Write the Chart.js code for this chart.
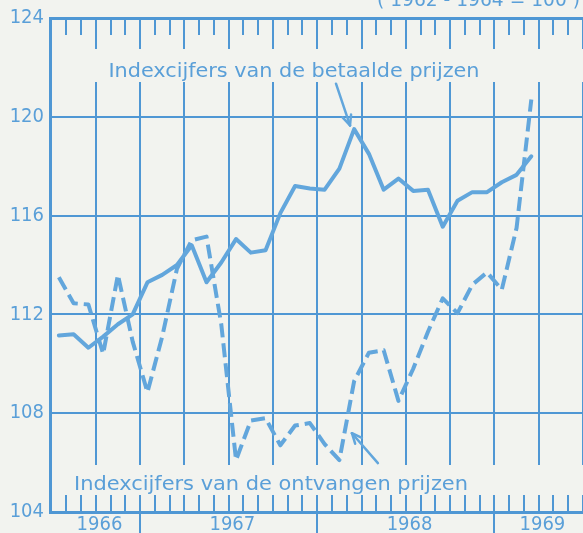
<!DOCTYPE html>
<html><head><meta charset="utf-8">
<script src="https://cdn.jsdelivr.net/npm/chart.js@4.4.1/dist/chart.umd.min.js"></script>
<style>html,body{margin:0;padding:0;background:#f2f3ef;overflow:hidden}canvas{display:block}</style>
</head><body>
<canvas id="c" width="583" height="533"></canvas>
<script>
// ---- data ----
const months = [
  '1966-07','1966-08','1966-09','1966-10','1966-11','1966-12',
  '1967-01','1967-02','1967-03','1967-04','1967-05','1967-06',
  '1967-07','1967-08','1967-09','1967-10','1967-11','1967-12',
  '1968-01','1968-02','1968-03','1968-04','1968-05','1968-06',
  '1968-07','1968-08','1968-09','1968-10','1968-11','1968-12',
  '1969-01','1969-02','1969-03'
];
const betaaldePrijzen = [
  111.15, 111.2, 110.65, 111.1, 111.6, 112.0,
  113.3, 113.6, 114.0, 114.8, 113.3, 114.1,
  115.05, 114.5, 114.6, 116.1, 117.2, 117.1,
  117.05, 117.9, 119.5, 118.5, 117.05, 117.5,
  117.0, 117.05, 115.55, 116.6, 116.95, 116.95,
  117.35, 117.65, 118.4
];
const ontvangenPrijzen = [
  113.5, 112.45, 112.4, 110.4, 113.6, 110.9,
  108.85, 111.1, 113.85, 115.0, 115.15, 111.6,
  106.1, 107.7, 107.8, 106.7, 107.5, 107.6,
  106.75, 106.1, 109.3, 110.45, 110.55, 108.5,
  109.8, 111.3, 112.65, 112.05, 113.2, 113.7,
  113.0, 115.5, 120.7
];
const yTickValues = [104, 108, 112, 116, 120, 124];
const years = ['1966', '1967', '1968', '1969'];
const labelBetaalde = 'Indexcijfers van de betaalde prijzen';
const labelOntvangen = 'Indexcijfers van de ontvangen prijzen';
const baseNote = '( 1962 - 1964 = 100 )';

// ---- styling ----
const BG = '#f2f3ef';
const GRID = '#4f97d4';
const LINE = '#62a6dc';
const TEXT = '#5a9fd8';
const FONT = "'DejaVu Sans Condensed','DejaVu Sans',sans-serif";

const monthIndex = s => { const [y, m] = s.split('-').map(Number); return (y - 1966) * 12 + (m - 7); };
const toPoints = vals => vals.map((v, i) => ({ x: monthIndex(months[i]) + 0.5, y: v }));
const yearTicks = years.map(y => {
  const a = Math.max(0, (+y - 1966) * 12 - 6), b = Math.min(36, (+y - 1966) * 12 + 6);
  return (a + b) / 2 + 0.25;
});

function fitText(c, txt, x, y, w, font) {
  c.font = font;
  const m = c.measureText(txt).width;
  c.save(); c.translate(x, y); c.scale(w / m, 1); c.fillText(txt, 0, 0); c.restore();
}
function seg(c, x1, y1, x2, y2) { c.beginPath(); c.moveTo(x1, y1); c.lineTo(x2, y2); c.stroke(); }
function arrow(c, x1, y1, x2, y2) {
  seg(c, x1, y1, x2, y2);
  const ang = Math.atan2(y2 - y1, x2 - x1), L = 11, A = 0.42;
  seg(c, x2, y2, x2 - L * Math.cos(ang - A), y2 - L * Math.sin(ang - A));
  seg(c, x2, y2, x2 - L * Math.cos(ang + A), y2 - L * Math.sin(ang + A));
}

const decor = {
  id: 'decor',
  beforeDraw(chart) {
    const c = chart.ctx; c.save(); c.fillStyle = BG; c.fillRect(0, 0, chart.width, chart.height); c.restore();
  },
  beforeDatasetsDraw(chart) {
    const c = chart.ctx, a = chart.chartArea, xs = chart.scales.x;
    c.save();
    c.strokeStyle = GRID; c.lineWidth = 2; c.lineCap = 'butt';
    for (let m = 1; m <= 36; m++) {
      const px = Math.round(xs.getPixelForValue(m));
      const quarter = m % 3 === 0, yearB = m % 12 === 6;
      seg(c, px, a.top, px, a.top + (quarter ? 31 : 17));
      if (quarter) seg(c, px, a.top + 64, px, a.bottom - 47);
      seg(c, px, a.bottom - 17, px, yearB ? chart.height : a.bottom);
    }
    c.fillStyle = TEXT; c.textBaseline = 'alphabetic'; c.textAlign = 'left';
    fitText(c, labelBetaalde, 108.5, a.top + 59, 371, '20px ' + FONT);
    fitText(c, labelOntvangen, 74, a.bottom - 22, 394, '20px ' + FONT);
    fitText(c, baseNote, 377, 6, 203, '20px ' + FONT);
    c.restore();
  },
  afterDatasetsDraw(chart) {
    const c = chart.ctx, xs = chart.scales.x, ys = chart.scales.y;
    c.save(); c.strokeStyle = LINE; c.lineWidth = 2.5; c.lineCap = 'round';
    const P = (m, v) => [xs.getPixelForValue(m), ys.getPixelForValue(v)];
    arrow(c, ...P(19.27, 121.34), ...P(20.22, 119.65));
    arrow(c, ...P(22.11, 105.98), ...P(20.35, 107.19));
    c.restore();
  }
};

new Chart(document.getElementById('c'), {
  type: 'line',
  data: {
    datasets: [
      { label: labelBetaalde, data: toPoints(betaaldePrijzen), borderColor: LINE, borderWidth: 4,
        pointRadius: 0, tension: 0, borderJoinStyle: 'round', borderCapStyle: 'round', fill: false },
      { label: labelOntvangen, data: toPoints(ontvangenPrijzen), borderColor: LINE, borderWidth: 4,
        borderDash: [14, 6], pointRadius: 0, tension: 0, borderJoinStyle: 'round', fill: false }
    ]
  },
  options: {
    responsive: false, devicePixelRatio: 1, animation: false,
    layout: { padding: { top: 16, left: 0, right: 0, bottom: 0 } },
    plugins: { legend: { display: false }, tooltip: { enabled: false } },
    scales: {
      x: {
        type: 'linear', min: -0.1, max: 36,
        afterBuildTicks: s => { s.ticks = yearTicks.map(v => ({ value: v })); },
        afterFit: s => { s.height = 21; },
        grid: { display: false, drawTicks: false },
        border: { display: true, color: GRID, width: 3 },
        ticks: { autoSkip: false, maxRotation: 0, padding: 1, color: TEXT,
          font: { family: FONT, size: 20 }, callback: (v, i) => years[i] }
      },
      y: {
        min: 104, max: 124,
        afterBuildTicks: s => { s.ticks = yTickValues.map(v => ({ value: v })); },
        afterFit: s => { s.width = 50; },
        grid: { color: GRID, lineWidth: ctx => (ctx.tick && ctx.tick.value === 124 ? 3 : 2), drawTicks: false },
        border: { display: true, color: GRID, width: 3 },
        ticks: { padding: 6, color: TEXT, font: { family: FONT, size: 20 } }
      }
    }
  },
  plugins: [decor]
});
</script>
</body></html>
